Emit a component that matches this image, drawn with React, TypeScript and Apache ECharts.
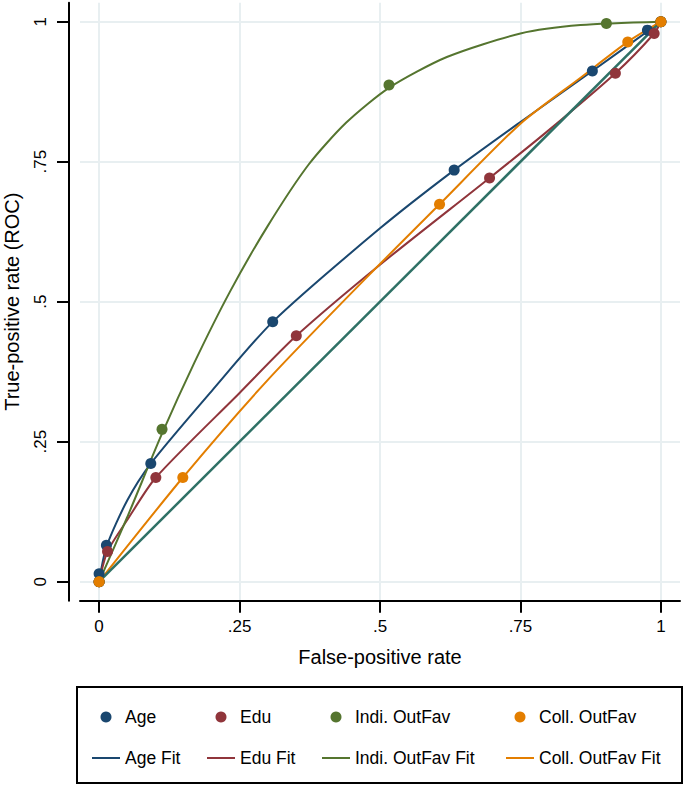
import React, { useEffect, useRef } from "react";
import * as echarts from "echarts";

// ---- data ----
const tickValues = [0, 0.25, 0.5, 0.75, 1];
const tickLabels = ["0", ".25", ".5", ".75", "1"];

const ageObs: [number, number][] = [[0, 0], [0, 0.014], [0.013, 0.065], [0.092, 0.211], [0.309, 0.464], [0.632, 0.735], [0.878, 0.912], [0.976, 0.985], [1, 1]];
const eduObs: [number, number][] = [[0, 0], [0.015, 0.054], [0.101, 0.186], [0.351, 0.439], [0.695, 0.721], [0.919, 0.908], [0.988, 0.979], [1, 1]];
const indiObs: [number, number][] = [[0, 0], [0.112, 0.272], [0.516, 0.887], [0.903, 0.997], [1, 1]];
const collObs: [number, number][] = [[0, 0], [0.149, 0.186], [0.606, 0.674], [0.941, 0.964], [1, 1]];

const ageFit: [number, number][] = [[0, 0], [0.013, 0.062], [0.05, 0.145], [0.092, 0.211], [0.2, 0.34], [0.309, 0.464], [0.5, 0.631], [0.632, 0.735], [0.75, 0.821], [0.878, 0.912], [1, 1]];
const eduFit: [number, number][] = [[0, 0], [0.015, 0.054], [0.05, 0.11], [0.101, 0.186], [0.25, 0.337], [0.351, 0.439], [0.5, 0.566], [0.695, 0.721], [0.8, 0.806], [0.919, 0.908], [0.988, 0.979], [1, 1]];
const indiFit: [number, number][] = [[0, 0], [0.05, 0.115], [0.111, 0.262], [0.17, 0.392], [0.233, 0.518], [0.3, 0.635], [0.373, 0.745], [0.44, 0.82], [0.516, 0.882], [0.619, 0.937], [0.75, 0.979], [0.857, 0.994], [1, 1]];
const collFit: [number, number][] = [[0, 0], [0.149, 0.186], [0.3, 0.36], [0.472, 0.539], [0.606, 0.674], [0.75, 0.818], [0.857, 0.9], [0.941, 0.964], [1, 1]];
const diagonal: [number, number][] = [[0, 0], [1, 1]];

const names = ["Age", "Edu", "Indi. OutFav", "Coll. OutFav"];
const fitNames = ["Age Fit", "Edu Fit", "Indi. OutFav Fit", "Coll. OutFav Fit"];

const colors = ["#1a476f", "#90353b", "#55752f", "#e37e00"];
const FONT = "Liberation Sans, Arial, Helvetica, sans-serif";

export default function App() {
  const ref = useRef<HTMLDivElement>(null);
  useEffect(() => {
    if (!ref.current) return;
    const chart = echarts.init(ref.current, null, { renderer: "svg" });
    const obs = [ageObs, eduObs, indiObs, collObs];
    const fits = [ageFit, eduFit, indiFit, collFit];
    const lineIcon = "path://M0,0H28V2H0Z";
    const legendLefts = [92, 207, 322, 506];

    const series: any[] = [];
    fits.forEach((d, i) => {
      series.push({
        name: fitNames[i],
        type: "line",
        data: d,
        smooth: 0.25,
        showSymbol: false,
        symbol: "none",
        lineStyle: { color: colors[i], width: 2 },
        itemStyle: { color: colors[i] },
        z: 2,
      });
    });
    series.push({
      name: "ref",
      type: "line",
      data: diagonal,
      showSymbol: false,
      symbol: "none",
      lineStyle: { color: "#2f7166", width: 2.5 },
      z: 3,
    });
    obs.forEach((d, i) => {
      series.push({
        name: names[i],
        type: "scatter",
        data: d,
        symbol: "circle",
        symbolSize: 11,
        itemStyle: { color: colors[i], opacity: 1 },
        z: 4 + i,
      });
    });

    const axisCommon = {
      type: "value",
      min: -0.034,
      max: 1.034,
      axisLine: { show: true, onZero: false, lineStyle: { color: "#000", width: 2 } },
      axisTick: { show: true, length: 12, customValues: tickValues, lineStyle: { color: "#000", width: 2 } },
      splitLine: { show: true, lineStyle: { color: "#e8eff1", width: 2 } },
      nameTextStyle: { fontSize: 20, color: "#000", fontFamily: FONT },
    };

    chart.setOption({
      animation: false,
      backgroundColor: "#ffffff",
      grid: { left: 80, width: 600, top: 2.7, height: 598, containLabel: false, outerBoundsMode: "none" },
      xAxis: {
        ...axisCommon,
        name: "False-positive rate",
        nameLocation: "middle",
        nameGap: 46,
        axisLabel: {
          customValues: tickValues,
          formatter: (v: number) => tickLabels[tickValues.indexOf(v)] ?? "",
          fontSize: 17,
          color: "#000",
          fontFamily: FONT,
          margin: 17,
        },
      },
      yAxis: {
        ...axisCommon,
        offset: 11,
        name: "True-positive rate (ROC)",
        nameLocation: "middle",
        nameGap: 47,
        axisLabel: {
          customValues: tickValues,
          formatter: (v: number) => tickLabels[tickValues.indexOf(v)] ?? "",
          fontSize: 17,
          color: "#000",
          fontFamily: FONT,
          rotate: 90,
          margin: 20,
        },
      },
      legend: legendLefts.map((left, i) => ({
        left,
        top: 708,
        orient: "vertical",
        padding: 0,
        itemGap: 23,
        itemWidth: 28,
        itemHeight: 11,
        selectedMode: false,
        textStyle: { fontSize: 17.5, color: "#000", fontFamily: FONT },
        data: [
          { name: names[i], icon: "circle" },
          { name: fitNames[i], icon: lineIcon },
        ],
      })),
      graphic: [
        {
          type: "rect",
          shape: { x: 77, y: 687, width: 605, height: 96 },
          style: { fill: "none", stroke: "#000", lineWidth: 2 },
          silent: true,
        },
      ],
      series,
    });
    return () => chart.dispose();
  }, []);
  return <div ref={ref} style={{ width: 685, height: 785, position: "absolute", left: 0, top: 0 }} />;
}
